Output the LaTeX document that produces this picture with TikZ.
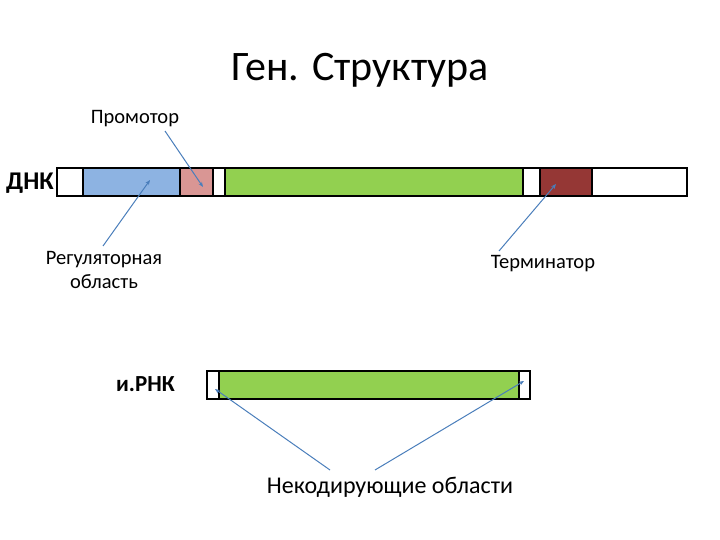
\documentclass[tikz,border=0pt]{standalone}
\usepackage{fontspec}
\setmainfont{Carlito}
\usetikzlibrary{arrows.meta}
\definecolor{rblue}{HTML}{8DB3E2}
\definecolor{rpink}{HTML}{D99694}
\definecolor{rgreen}{HTML}{92D050}
\definecolor{rred}{HTML}{953735}
\definecolor{rline}{HTML}{4A7EBB}
\tikzset{
  seg/.style={draw=black, line width=2pt, anchor=north west, inner sep=0pt, outer sep=0pt, minimum height=28pt},
  lab/.style={inner sep=0pt, font=\fontsize{20.5}{24}\selectfont, align=center},
  ptr/.style={draw=rline, line width=1pt, -{Stealth[length=5pt,width=4pt]}}
}
\begin{document}
\begin{tikzpicture}[x=1pt,y=-1pt]
\useasboundingbox (0,0) rectangle (720,540);
% title
\node[inner sep=0pt, font=\fontsize{42}{46}\selectfont] (title) at (360,70) {Ген. Структура};
% DNA
\node[seg, fill=white, minimum width=630pt] (dna) at (57,168) {};
\node[seg, fill=rblue, minimum width=97pt] (reg) at (83,168) {};
\node[seg, fill=rpink, minimum width=33pt] (prom) at (180,168) {};
\node[seg, fill=rgreen, minimum width=298pt] (gene) at (225,168) {};
\node[seg, fill=rred, minimum width=52pt] (term) at (540,168) {};
\node[seg, fill=none, minimum width=630pt] at (57,168) {};
\node[inner sep=0pt, font=\fontsize{25.5}{28}\selectfont\bfseries, anchor=east] (dnalab) at (54,183) {ДНК};
% labels
\node[lab] (promlab) at (135,119) {Промотор};
\node[lab] (reglab) at (104,270) {Регуляторная\\область};
\node[lab] (termlab) at (543,264) {Терминатор};
\coordinate (promtip) at (203,187);
\coordinate (regtip) at (150,180);
\coordinate (termtip) at (556,184);
\draw[ptr] (165,131) -- (promtip);
\draw[ptr] (103,246) -- (regtip);
\draw[ptr] (499,251) -- (termtip);
% mRNA
\node[seg, fill=white, minimum width=323pt] (mrna) at (207,371) {};
\node[seg, fill=rgreen, minimum width=300pt] (mgene) at (219,371) {};
\node[seg, fill=none, minimum width=323pt] at (207,371) {};
\node[inner sep=0pt, font=\fontsize{23}{26}\selectfont\bfseries, anchor=east] (mrnalab) at (175,384) {и.РНК};
\node[inner sep=0pt, font=\fontsize{24}{28}\selectfont] (nclab) at (390,487) {Некодирующие области};
\coordinate (ncl) at (215,389);
\coordinate (ncr) at (524,381);
\draw[ptr] (330,470) -- (ncl);
\draw[ptr] (375,470) -- (ncr);
\end{tikzpicture}
\end{document}
